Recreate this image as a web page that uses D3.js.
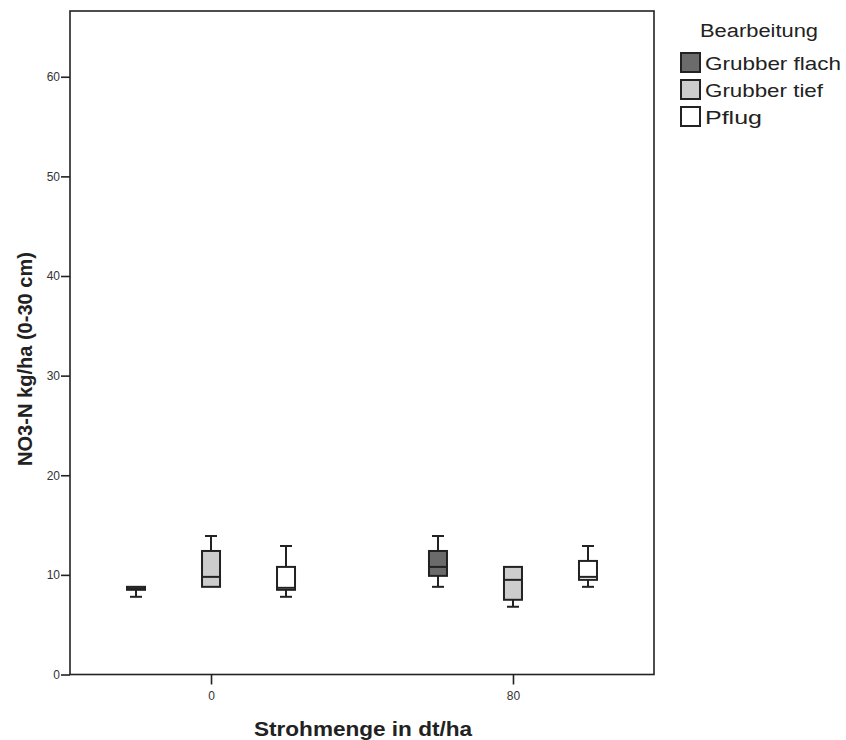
<!DOCTYPE html>
<html>
<head>
<meta charset="utf-8">
<script src="https://cdn.jsdelivr.net/npm/d3@7"></script>
<style>
  html, body { margin: 0; padding: 0; background: #fff; }
  svg { display: block; font-family: "Liberation Sans", Arial, sans-serif; }
</style>
</head>
<body>
<svg id="chart" width="846" height="740"></svg>
<script>
// ---- data ----
const categories = ["0", "80"];
const series = ["Grubber flach", "Grubber tief", "Pflug"];
const seriesColors = ["#6b6b6b", "#cdcdcd", "#ffffff"];
// [min, q1, median, q3, max] per category
const grubberFlach = [[7.8, 8.5, 8.6, 8.8, 8.8], [8.8, 9.9, 10.8, 12.4, 13.9]];
const grubberTief  = [[8.8, 8.8, 9.8, 12.4, 13.9], [6.8, 7.5, 9.5, 10.8, 10.8]];
const pflug        = [[7.8, 8.5, 8.7, 10.8, 12.9], [8.8, 9.5, 9.8, 11.4, 12.9]];
const yTicks = [0, 10, 20, 30, 40, 50, 60];
const xTitle = "Strohmenge in dt/ha";
const yTitle = "NO3-N kg/ha (0-30 cm)";
const legendTitle = "Bearbeitung";

const seriesData = [grubberFlach, grubberTief, pflug];

(function () {
// ---- layout ----
const svg = d3.select("#chart");
const pLeft = 70, pRight = 654, pTop = 11, pBottom = 674.5;

const y = d3.scaleLinear().domain([0, 66.6]).range([pBottom, pTop]);
const x0 = d3.scalePoint().domain(categories).range([pLeft, pRight]).padding(0.467);
const x1 = d3.scalePoint().domain(series).range([-75, 75]);

const stroke = "#222";
const boxW = 18, capW = 12;

// frame
svg.append("rect")
  .attr("x", pLeft).attr("y", pTop)
  .attr("width", pRight - pLeft).attr("height", pBottom - pTop)
  .attr("fill", "none").attr("stroke", stroke).attr("stroke-width", 1.6);

// y axis
const yAxis = svg.append("g").attr("transform", `translate(${pLeft},0)`)
  .call(d3.axisLeft(y).tickValues(yTicks).tickSize(9).tickPadding(1).tickFormat(d3.format("d")));
yAxis.select(".domain").remove();
yAxis.selectAll("line").attr("stroke", stroke).attr("stroke-width", 1.6);
yAxis.selectAll("text").attr("fill", "#333").style("font-size", "12px")
  .style("font-family", "'Liberation Sans', Arial, sans-serif");

// x axis
const xAxis = svg.append("g").attr("transform", `translate(0,${pBottom})`)
  .call(d3.axisBottom(x0).tickSize(10).tickPadding(7));
xAxis.select(".domain").remove();
xAxis.selectAll("line").attr("stroke", stroke).attr("stroke-width", 1.6);
xAxis.selectAll("text").attr("fill", "#333").style("font-size", "12px")
  .style("font-family", "'Liberation Sans', Arial, sans-serif");

// axis titles
svg.append("text")
  .attr("x", 363).attr("y", 736)
  .attr("text-anchor", "middle")
  .attr("font-weight", "bold").attr("font-size", 20).attr("fill", "#222")
  .attr("textLength", 218).attr("lengthAdjust", "spacingAndGlyphs")
  .text(xTitle);

svg.append("text")
  .attr("transform", "translate(32,359) rotate(-90)")
  .attr("text-anchor", "middle")
  .attr("font-weight", "bold").attr("font-size", 19.5).attr("fill", "#222")
  .attr("textLength", 214).attr("lengthAdjust", "spacingAndGlyphs")
  .text(yTitle);

// boxes
series.forEach((s, si) => {
  seriesData[si].forEach((st, ci) => {
    const [mn, q1, med, q3, mx] = st;
    const cx = x0(categories[ci]) + x1(s);
    const g = svg.append("g");
    g.append("line").attr("x1", cx).attr("x2", cx).attr("y1", y(mx)).attr("y2", y(q3))
      .attr("stroke", stroke).attr("stroke-width", 2);
    g.append("line").attr("x1", cx).attr("x2", cx).attr("y1", y(q1)).attr("y2", y(mn))
      .attr("stroke", stroke).attr("stroke-width", 2);
    if (mx > q3) g.append("line").attr("x1", cx - capW / 2).attr("x2", cx + capW / 2)
      .attr("y1", y(mx)).attr("y2", y(mx)).attr("stroke", stroke).attr("stroke-width", 2);
    if (mn < q1) g.append("line").attr("x1", cx - capW / 2).attr("x2", cx + capW / 2)
      .attr("y1", y(mn)).attr("y2", y(mn)).attr("stroke", stroke).attr("stroke-width", 2);
    g.append("rect")
      .attr("x", cx - boxW / 2).attr("y", y(q3))
      .attr("width", boxW).attr("height", Math.max(0.5, y(q1) - y(q3)))
      .attr("fill", seriesColors[si]).attr("stroke", stroke).attr("stroke-width", 2);
    g.append("line").attr("x1", cx - boxW / 2).attr("x2", cx + boxW / 2)
      .attr("y1", y(med)).attr("y2", y(med)).attr("stroke", stroke).attr("stroke-width", 2);
  });
});

// legend
svg.append("text")
  .attr("x", 759).attr("y", 37).attr("text-anchor", "middle")
  .attr("font-size", 18).attr("fill", "#222")
  .attr("textLength", 118).attr("lengthAdjust", "spacingAndGlyphs")
  .text(legendTitle);

const legendLengths = [136, 118, 57];
const lg = svg.append("g");
series.forEach((s, i) => {
  const yy = 53 + i * 27;
  lg.append("rect").attr("x", 681).attr("y", yy).attr("width", 19).attr("height", 19)
    .attr("fill", seriesColors[i]).attr("stroke", stroke).attr("stroke-width", 2);
  lg.append("text").attr("x", 705).attr("y", yy + 17)
    .attr("font-size", 19).attr("fill", "#222")
    .attr("textLength", legendLengths[i]).attr("lengthAdjust", "spacingAndGlyphs")
    .text(s);
});
})();
</script>
</body>
</html>
